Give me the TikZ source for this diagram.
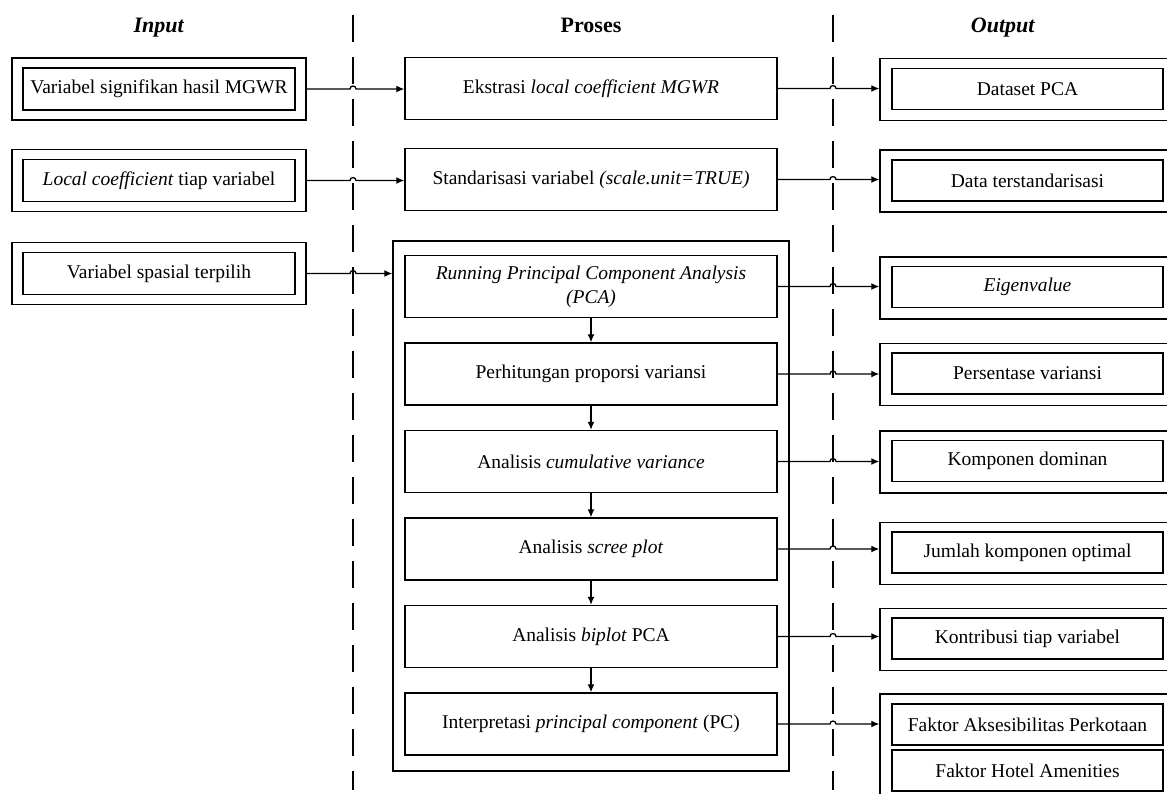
\documentclass[tikz,border=0pt]{standalone}
\usepackage{fontspec}
\setmainfont{Liberation Serif}
\usetikzlibrary{arrows.meta,calc}

\tikzset{
  txt/.style={font=\fontsize{19.5}{24}\selectfont, align=center},
  head/.style={font=\fontsize{22}{26}\selectfont\bfseries, anchor=base},
  box/.style={draw, line width=1.4pt, txt, inner sep=0pt},
  outerbox/.style={box, minimum width=294pt, minimum height=62pt},
  innerbox/.style={box, minimum width=272pt, minimum height=42pt},
  prosbox/.style={box, minimum width=372pt, minimum height=62pt},
  resbox/.style={box, minimum width=295pt, minimum height=62pt},
  resinner/.style={box, minimum width=271pt, minimum height=41pt},
  conn/.style={line width=1.3pt, -{Latex[length=8pt,width=7pt]}},
  lane/.style={line width=1.2pt, dash pattern=on 27pt off 15pt}
}

\begin{document}
\begin{tikzpicture}[x=1pt,y=-1pt]
\path[use as bounding box] (0,0) rectangle (1167,793);
\clip (0,0) rectangle (1167,793);

% kolom
\node[head] at (159,32) {\textit{Input}};
\node[head] at (591,32) {Proses};
\node[head] at (1003,32) {\textit{Output}};
\coordinate (lnL) at (353,15);
\coordinate (lnR) at (833,15);
\draw[lane] (lnL) -- ++(0,775);
\draw[lane] (lnR) -- ++(0,775);

% input
\node[outerbox] (in1o) at (159,89) {};
\node[innerbox] (in1) at (159,89) {Variabel signifikan hasil MGWR};
\node[outerbox] (in2o) at (159,180.5) {};
\node[innerbox] (in2) at (159,180.5) {\textit{Local coefficient} tiap variabel};
\node[outerbox] (in3o) at (159,273.5) {};
\node[innerbox] (in3) at (159,273.5) {Variabel spasial terpilih};

% proses
\node[prosbox] (pr1) at (591,88.5) {Ekstrasi \textit{local coefficient MGWR}};
\node[prosbox] (pr2) at (591,179.5) {Standarisasi variabel \textit{(scale.unit=TRUE)}};
\node[box, minimum width=396pt, minimum height=530pt] (cont) at (591,506) {};
\node[prosbox] (run) at (591,286.5) {\textit{Running Principal Component Analysis}\\\textit{(PCA)}};
\node[prosbox] (prop) at (591,374) {Perhitungan proporsi variansi};
\node[prosbox] (cum) at (591,461.5) {Analisis \textit{cumulative variance}};
\node[prosbox] (scree) at (591,549) {Analisis \textit{scree plot}};
\node[prosbox] (bip) at (591,636.5) {Analisis \textit{biplot} PCA};
\node[prosbox] (intp) at (591,724) {Interpretasi \textit{principal component} (PC)};

% output
\node[resbox] (out1o) at (1027.5,89.5) {};
\node[resinner] (out1) at (1027.5,89) {Dataset PCA};
\node[resbox] (out2o) at (1027.5,181) {};
\node[resinner] (out2) at (1027.5,180.5) {Data terstandarisasi};
\node[resbox] (eigo) at (1027.5,288) {};
\node[resinner] (eig) at (1027.5,287) {\textit{Eigenvalue}};
\node[resbox] (perso) at (1027.5,374.5) {};
\node[resinner] (pers) at (1027.5,373.5) {Persentase variansi};
\node[resbox] (kompo) at (1027.5,462) {};
\node[resinner] (komp) at (1027.5,461) {Komponen dominan};
\node[resbox] (jmlo) at (1027.5,553.5) {};
\node[resinner] (jml) at (1027.5,552.5) {Jumlah komponen optimal};
\node[resbox] (kontro) at (1027.5,639.5) {};
\node[resinner] (kontr) at (1027.5,638.5) {Kontribusi tiap variabel};
\node[resbox, minimum height=108pt] (faktoro) at (1027.5,748) {};
\node[resinner] (fak1) at (1027.5,724.5) {Faktor Aksesibilitas Perkotaan};
\node[resinner] (fak2) at (1027.5,770.5) {Faktor Hotel Amenities};

% input ke proses
\draw[conn] (in1o.east) -- ($(in1o.east -| lnL)+(-3,0)$) arc[start angle=180,end angle=360,radius=3] -- (in1o.east -| pr1.west);
\draw[conn] (in2o.east) -- ($(in2o.east -| lnL)+(-3,0)$) arc[start angle=180,end angle=360,radius=3] -- (in2o.east -| pr2.west);
\draw[conn] (in3o.east) -- ($(in3o.east -| lnL)+(-3,0)$) arc[start angle=180,end angle=360,radius=3] -- (in3o.east -| cont.west);

% proses ke output
\draw[conn] (pr1.east) -- ($(pr1.east -| lnR)+(-3,0)$) arc[start angle=180,end angle=360,radius=3] -- (pr1.east -| out1o.west);
\draw[conn] (pr2.east) -- ($(pr2.east -| lnR)+(-3,0)$) arc[start angle=180,end angle=360,radius=3] -- (pr2.east -| out2o.west);
\draw[conn] (run.east) -- ($(run.east -| lnR)+(-3,0)$) arc[start angle=180,end angle=360,radius=3] -- (run.east -| eigo.west);
\draw[conn] (prop.east) -- ($(prop.east -| lnR)+(-3,0)$) arc[start angle=180,end angle=360,radius=3] -- (prop.east -| perso.west);
\draw[conn] (cum.east) -- ($(cum.east -| lnR)+(-3,0)$) arc[start angle=180,end angle=360,radius=3] -- (cum.east -| kompo.west);
\draw[conn] (scree.east) -- ($(scree.east -| lnR)+(-3,0)$) arc[start angle=180,end angle=360,radius=3] -- (scree.east -| jmlo.west);
\draw[conn] (bip.east) -- ($(bip.east -| lnR)+(-3,0)$) arc[start angle=180,end angle=360,radius=3] -- (bip.east -| kontro.west);
\draw[conn] (intp.east) -- ($(intp.east -| lnR)+(-3,0)$) arc[start angle=180,end angle=360,radius=3] -- (intp.east -| faktoro.west);

% urutan proses
\draw[conn] (run) -- (prop);
\draw[conn] (prop) -- (cum);
\draw[conn] (cum) -- (scree);
\draw[conn] (scree) -- (bip);
\draw[conn] (bip) -- (intp);
\end{tikzpicture}
\end{document}
